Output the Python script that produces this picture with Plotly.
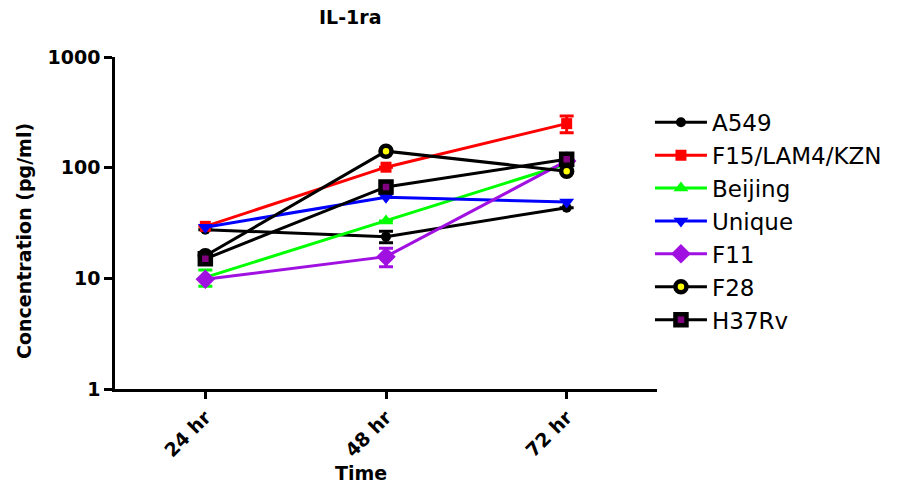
import plotly.graph_objects as go

# Time points and IL-1ra concentrations (pg/ml) per strain
time_points = ["24 hr", "48 hr", "72 hr"]

a549 = [27.5, 23.8, 43.5]
a549_err = [0, 2.8, 0]
f15 = [29.5, 101, 250]
f15_err = [0, 0, 43]
beijing = [10.2, 33, 108]
beijing_err = [1.7, 0, 0]
unique = [29, 54, 49]
f11 = [9.8, 15.7, 115]
f11_err = [0, 3, 0]
f28 = [16, 141, 93]
h37rv = [15, 67, 119]

y_tickvals = [1, 10, 100, 1000]
y_ticktext = ["1", "10", "100", "1000"]

FONT = "DejaVu Sans"

series = [
    dict(name="A549", y=a549, err=a549_err, color="#000000",
         marker=dict(symbol="circle", size=10, color="#000000")),
    dict(name="F15/LAM4/KZN", y=f15, err=f15_err, color="#FF0000",
         marker=dict(symbol="square", size=11, color="#FF0000")),
    dict(name="Beijing", y=beijing, err=beijing_err, color="#00FF00",
         marker=dict(symbol="triangle-up", size=13, color="#00FF00")),
    dict(name="Unique", y=unique, err=None, color="#0000FF",
         marker=dict(symbol="triangle-down", size=13, color="#0000FF")),
    dict(name="F11", y=f11, err=f11_err, color="#A010E0",
         marker=dict(symbol="diamond", size=15, color="#A010E0")),
    dict(name="F28", y=f28, err=None, color="#000000",
         marker=dict(symbol="circle", size=11, color="#FFFF00",
                     line=dict(color="#000000", width=4.5))),
    dict(name="H37Rv", y=h37rv, err=None, color="#000000",
         marker=dict(symbol="square", size=11, color="#800080",
                     line=dict(color="#000000", width=4.5))),
]

fig = go.Figure()
for s in series:
    err = None
    if s["err"] is not None:
        err = dict(type="data", array=s["err"], visible=True,
                   color=s["color"], thickness=3, width=7)
    fig.add_trace(go.Scatter(
        x=time_points, y=s["y"], name=s["name"], mode="lines+markers",
        line=dict(color=s["color"], width=3),
        marker=s["marker"], error_y=err, legendgroup=s["name"],
        cliponaxis=False,
    ))

axis_font = dict(family=FONT, size=19, color="#000000", weight="bold")

fig.update_layout(
    width=903, height=489,
    margin=dict(l=115, r=246, t=57, b=100),
    plot_bgcolor="white", paper_bgcolor="white",
    font=dict(family=FONT, color="#000000"),
    showlegend=True,
    legend=dict(x=0.987, y=0.868, xanchor="left", yanchor="top",
                font=dict(family=FONT, size=23, color="#000000"),
                tracegroupgap=0, itemwidth=52, bgcolor="rgba(0,0,0,0)"),
    xaxis=dict(type="category", range=[-0.5, 2.5], showline=True,
               linecolor="#000000", linewidth=2.5, ticks="outside",
               ticklen=7, tickwidth=2.5, tickcolor="#000000",
               tickangle=-45, tickfont=axis_font, showgrid=False,
               zeroline=False),
    yaxis=dict(type="log", range=[0, 3], showline=True,
               linecolor="#000000", linewidth=2.5, ticks="outside",
               ticklen=8, tickwidth=2.5, tickcolor="#000000",
               tickvals=y_tickvals, ticktext=y_ticktext,
               tickfont=axis_font, showgrid=False, zeroline=False),
    annotations=[
        dict(text="IL-1ra", xref="paper", yref="paper", x=0.4336, y=1.1205,
             xanchor="center", yanchor="middle", showarrow=False,
             font=axis_font),
        dict(text="Concentration (pg/ml)", xref="paper", yref="paper",
             x=-0.1679, y=0.4458, xanchor="center", yanchor="middle",
             textangle=-90, showarrow=False, font=axis_font),
        dict(text="Time", xref="paper", yref="paper", x=0.4539, y=-0.253,
             xanchor="center", yanchor="middle", showarrow=False,
             font=axis_font),
    ],
)

fig.write_html("out.html")
